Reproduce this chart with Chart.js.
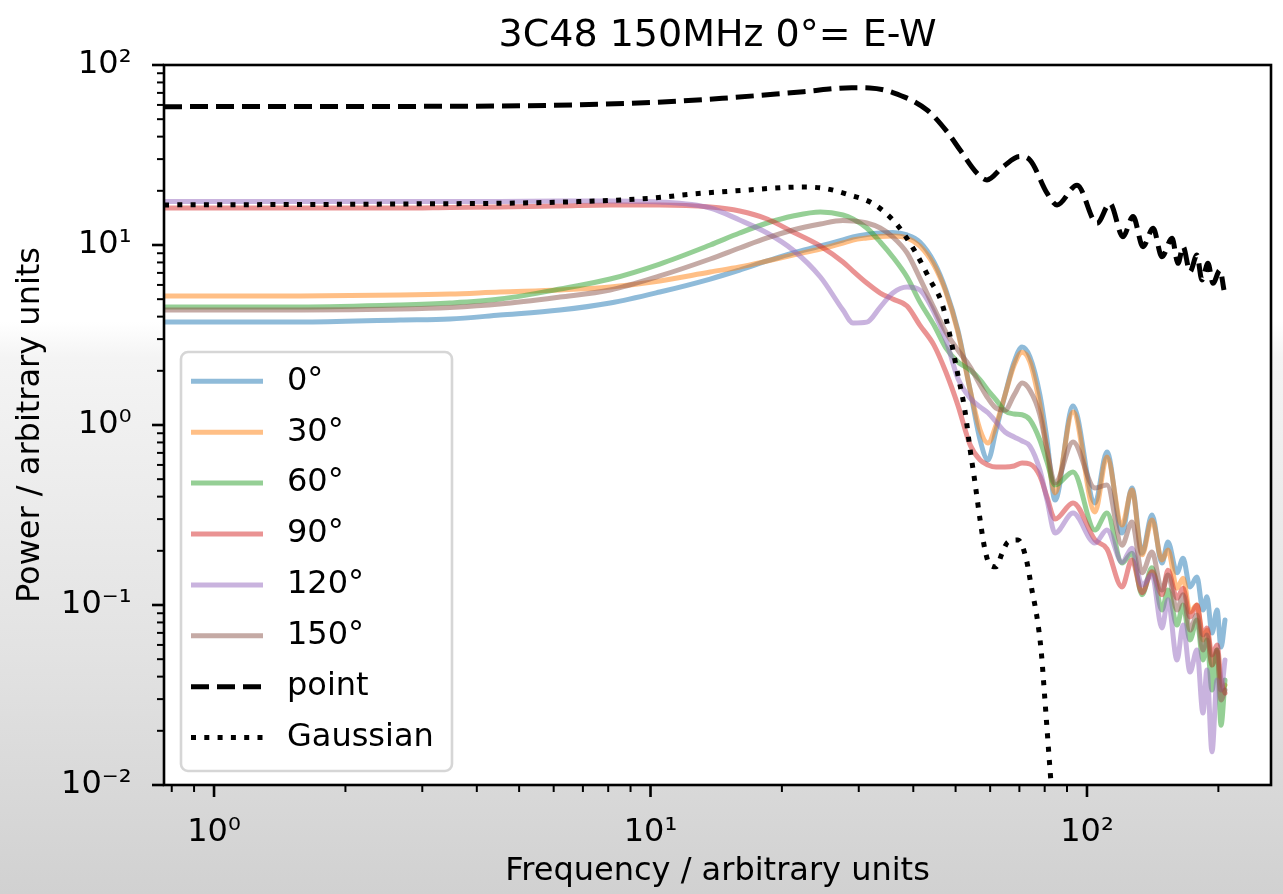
<!DOCTYPE html>
<html>
<head>
<meta charset="utf-8">
<title>3C48 150MHz power spectra</title>
<script src="https://cdn.jsdelivr.net/npm/chart.js@4.4.1/dist/chart.umd.min.js"></script>
<style>
  html, body { margin: 0; padding: 0; background: #ffffff; }
  canvas { display: block; }
</style>
</head>
<body>
<canvas id="spectrum" width="1283" height="894"></canvas>
<script>
// frequency grid shared by the six position-angle spectra
const frequency = [0.768, 1.574, 2.67, 3.47, 4.52, 6.20, 8.08, 10.5, 13.7, 16.0, 18.5, 21.2, 24.5, 27.6, 29.1, 31.3, 33.6, 35.9, 38.7, 41.4,
  44.6, 47.5, 50.6, 54.0, 56.9, 59.3, 61.9, 64.9, 68.1, 71.0, 74.0, 78.0, 81.0, 84.5, 92.9, 104.3, 111.1, 120.3, 126.8, 133.7,
  140.9, 148.5, 153.3, 160.8, 166.0, 172.2, 178.6, 184.4, 188.3, 193.4, 198.6, 202.8, 207.1];

const power0 = [3.73, 3.73, 3.83, 3.88, 4.08, 4.35, 4.76, 5.48, 6.47, 7.26, 8.15, 9.03, 9.87, 10.66, 11.08, 11.44, 11.66, 11.73, 11.37, 10.39,
  8.05, 5.62, 3.37, 1.56, 0.825, 0.639, 0.938, 1.47, 2.24, 2.71, 2.39, 1.47, 0.825, 0.383, 1.275, 0.369, 0.708, 0.251, 0.447, 0.194,
  0.316, 0.171, 0.224, 0.151, 0.182, 0.126, 0.143, 0.0938, 0.111, 0.0699, 0.0938, 0.0584, 0.0825];
const power30 = [5.21, 5.21, 5.27, 5.34, 5.48, 5.62, 5.84, 6.31, 7.08, 7.55, 8.15, 8.80, 9.50, 10.26, 10.66, 10.94, 11.15, 11.22, 10.94, 9.87,
  7.74, 5.48, 3.29, 1.56, 0.938, 0.794, 1.0, 1.47, 2.15, 2.54, 2.24, 1.29, 0.726, 0.419, 1.18, 0.329, 0.664, 0.278, 0.435, 0.190,
  0.297, 0.178, 0.202, 0.124, 0.141, 0.0914, 0.1, 0.0639, 0.0726, 0.0464, 0.0548, 0.0337, 0.0359];
const power60 = [4.52, 4.52, 4.64, 4.76, 5.01, 5.69, 6.47, 7.84, 10.0, 11.66, 13.25, 14.49, 15.26, 14.68, 13.95, 12.43, 10.39, 8.58, 6.64, 4.83,
  3.59, 2.68, 2.24, 2.02, 1.78, 1.56, 1.38, 1.196, 1.151, 1.14, 1.07, 0.825, 0.623, 0.464, 0.548, 0.261, 0.324, 0.171, 0.194, 0.114,
  0.161, 0.0938, 0.121, 0.0774, 0.1, 0.0639, 0.0825, 0.0495, 0.0639, 0.0337, 0.0562, 0.0215, 0.0383];
const power90 = [16.05, 16.05, 16.05, 16.16, 16.26, 16.47, 16.68, 16.68, 16.26, 15.45, 13.95, 11.81, 9.87, 8.05, 7.17, 6.15, 5.41, 5.01, 4.58, 3.59,
  2.78, 1.97, 1.29, 0.774, 0.639, 0.600, 0.584, 0.584, 0.592, 0.615, 0.607, 0.521, 0.398, 0.300, 0.369, 0.230, 0.205, 0.126, 0.178, 0.117,
  0.153, 0.114, 0.156, 0.109, 0.124, 0.0858, 0.1, 0.0681, 0.0745, 0.0527, 0.06, 0.0383, 0.0324];
const power120 = [17.45, 17.45, 17.45, 17.45, 17.45, 17.56, 17.56, 17.33, 16.05, 13.77, 11.66, 9.38, 6.64, 4.35, 3.69, 3.73, 4.52, 5.41, 5.84, 5.62,
  4.24, 2.97, 1.82, 1.41, 1.26, 1.17, 1.04, 0.914, 0.858, 0.815, 0.764, 0.562, 0.383, 0.251, 0.324, 0.221, 0.261, 0.173, 0.207, 0.129,
  0.147, 0.0745, 0.107, 0.0495, 0.0774, 0.0424, 0.0562, 0.0251, 0.0435, 0.0153, 0.0383, 0.0337, 0.0495];
const power150 = [4.35, 4.35, 4.41, 4.50, 4.70, 5.14, 5.62, 6.73, 8.36, 9.62, 10.94, 12.12, 13.08, 13.68, 13.60, 13.25, 12.43, 11.08, 9.03, 6.55,
  4.47, 3.29, 2.61, 2.10, 1.67, 1.41, 1.24, 1.21, 1.47, 1.71, 1.56, 1.14, 0.726, 0.476, 0.804, 0.447, 0.464, 0.215, 0.289, 0.151,
  0.197, 0.121, 0.147, 0.0938, 0.114, 0.0726, 0.088, 0.0562, 0.0681, 0.0464, 0.0562, 0.0297, 0.0337];

// unresolved point source
const pointFreq = [0.768, 1.57, 4.52, 10.0, 14.6, 22.4, 28.9, 31.8, 35.9, 43.0, 47.8, 51.2, 56.0, 59.0, 64.2, 70.2, 74.0, 81.0, 85.4,
  94.9, 105.4, 112.9, 120.9, 127.5, 134.4, 141.7, 148.5, 156.6, 161.6, 166.0, 172.2, 178.6, 183.4, 189.3, 194.4, 201.7, 206.0];
const pointPower = [58.7, 58.8, 59.2, 61.9, 65.3, 71.1, 74.8, 74.5, 70.3, 56.2, 42.6, 33.7, 25.0, 23.0, 27.2, 31.0, 29.7, 19.4, 16.7,
  21.5, 13.2, 17.0, 11.1, 14.4, 9.79, 12.4, 8.61, 10.9, 7.91, 9.79, 7.11, 8.80, 6.39, 7.91, 6.13, 7.26, 5.62];

// Gaussian model
const gaussFreq = [0.768, 2.67, 6.20, 10.0, 12.5, 16.6, 20.5, 22.6, 25.4, 28.6, 32.3, 35.9, 37.9, 40.8, 43.7, 46.5, 48.5, 50.6, 52.5,
  54.0, 55.4, 56.9, 58.4, 59.9, 61.9, 63.9, 65.9, 69.5, 72.5, 74.8, 76.8, 78.5, 80.1, 82.3, 84.0];
const gaussPower = [16.7, 16.9, 17.3, 18.2, 19.2, 20.2, 20.9, 21.0, 20.5, 18.97, 17.0, 13.8, 11.7, 8.80, 6.39, 4.76, 3.16, 1.90, 1.21,
  0.727, 0.476, 0.297, 0.202, 0.167, 0.163, 0.194, 0.224, 0.230, 0.182, 0.121, 0.0858, 0.0562, 0.0297, 0.0121, 0.0064];

const angleLabels = ['0°', '30°', '60°', '90°', '120°', '150°'];
const angleColors = ['rgba(31,119,180,0.5)', 'rgba(255,127,14,0.5)', 'rgba(44,160,44,0.5)',
  'rgba(214,39,40,0.5)', 'rgba(148,103,189,0.5)', 'rgba(140,86,75,0.5)'];

const xTickValues = [0.8, 0.9, 1, 2, 3, 4, 5, 6, 7, 8, 9, 10, 20, 30, 40, 50, 60, 70, 80, 90, 100, 200];
const yTickValues = [];
for (const decade of [0.01, 0.1, 1, 10]) {
  for (let m = 1; m <= 9; m++) yTickValues.push(+(m * decade).toPrecision(3));
}
yTickValues.push(100);

const chartTitle = '3C48 150MHz 0°= E-W';
const FONT = '"DejaVu Sans", "Liberation Sans", sans-serif';

const SUP = { '-': '⁻', '0': '⁰', '1': '¹', '2': '²', '3': '³' };
function isDecade(v) {
  const e = Math.log10(v);
  return Math.abs(e - Math.round(e)) < 1e-9;
}
function decadeLabel(v) {
  if (!isDecade(v)) return '';
  const e = String(Math.round(Math.log10(v)));
  return '10' + e.split('').map(c => SUP[c]).join('');
}

const angleSeries = [power0, power30, power60, power90, power120, power150];
const datasets = angleSeries.map((vals, i) => ({
  label: angleLabels[i],
  data: frequency.map((f, k) => ({ x: f, y: vals[k] })),
  borderColor: angleColors[i],
  borderWidth: 5,
  borderJoinStyle: 'round',
  borderCapStyle: 'round',
  cubicInterpolationMode: 'monotone',
  pointRadius: 0,
  clip: 0,
  order: 10 - i
}));
datasets.push({
  label: 'point',
  data: pointFreq.map((f, k) => ({ x: f, y: pointPower[k] })),
  borderColor: '#000000',
  borderWidth: 5,
  borderDash: [18, 8],
  borderCapStyle: 'butt',
  borderJoinStyle: 'round',
  cubicInterpolationMode: 'monotone',
  pointRadius: 0,
  clip: 0,
  order: 2
});
datasets.push({
  label: 'Gaussian',
  data: gaussFreq.map((f, k) => ({ x: f, y: gaussPower[k] })),
  borderColor: '#000000',
  borderWidth: 5,
  borderDash: [5, 8.3],
  borderCapStyle: 'butt',
  borderJoinStyle: 'round',
  cubicInterpolationMode: 'monotone',
  pointRadius: 0,
  clip: 0,
  order: 1
});

// grey fade behind the figure, white axes face
const figureBackground = {
  id: 'figureBackground',
  beforeDraw(chart) {
    const { ctx, width, height, chartArea } = chart;
    ctx.save();
    const g = ctx.createLinearGradient(0, 0, 0, height);
    g.addColorStop(0, '#ffffff');
    g.addColorStop(0.36, '#ffffff');
    g.addColorStop(0.40, '#f4f4f4');
    g.addColorStop(0.72, '#e3e3e3');
    g.addColorStop(1, '#d1d1d1');
    ctx.fillStyle = g;
    ctx.fillRect(0, 0, width, height);
    ctx.fillStyle = '#ffffff';
    ctx.fillRect(chartArea.left, chartArea.top, chartArea.right - chartArea.left, chartArea.bottom - chartArea.top);
    ctx.restore();
  }
};

// box spines plus outward major/minor tick marks
const axesFrame = {
  id: 'axesFrame',
  afterDatasetsDraw(chart) {
    const { ctx, chartArea: a, scales } = chart;
    ctx.save();
    ctx.strokeStyle = '#000000';
    ctx.setLineDash([]);
    for (const t of scales.x.ticks) {
      const px = scales.x.getPixelForValue(t.value);
      const major = isDecade(t.value);
      ctx.lineWidth = major ? 2.6 : 2;
      ctx.beginPath();
      ctx.moveTo(px, a.bottom);
      ctx.lineTo(px, a.bottom + (major ? 12 : 7));
      ctx.stroke();
    }
    for (const t of scales.y.ticks) {
      const py = scales.y.getPixelForValue(t.value);
      const major = isDecade(t.value);
      ctx.lineWidth = major ? 2.6 : 2;
      ctx.beginPath();
      ctx.moveTo(a.left, py);
      ctx.lineTo(a.left - (major ? 12 : 7), py);
      ctx.stroke();
    }
    ctx.lineWidth = 2.6;
    ctx.strokeRect(a.left, a.top, a.right - a.left, a.bottom - a.top);
    ctx.restore();
  }
};

// legend in the lower left corner of the axes
const legendBox = {
  id: 'legendBox',
  afterDatasetsDraw(chart) {
    const { ctx, chartArea: a } = chart;
    const sets = chart.data.datasets;
    const w = 271, h = 419, r = 7, rowH = 50.9;
    const x0 = a.left + 17;
    const y0 = a.bottom - 14 - h;
    ctx.save();
    ctx.beginPath();
    ctx.moveTo(x0 + r, y0);
    ctx.arcTo(x0 + w, y0, x0 + w, y0 + h, r);
    ctx.arcTo(x0 + w, y0 + h, x0, y0 + h, r);
    ctx.arcTo(x0, y0 + h, x0, y0, r);
    ctx.arcTo(x0, y0, x0 + w, y0, r);
    ctx.closePath();
    ctx.fillStyle = 'rgba(255,255,255,0.8)';
    ctx.fill();
    ctx.strokeStyle = 'rgba(204,204,204,0.8)';
    ctx.lineWidth = 2.6;
    ctx.stroke();

    ctx.font = '32px ' + FONT;
    ctx.textAlign = 'left';
    ctx.textBaseline = 'middle';
    sets.forEach((ds, i) => {
      const y = y0 + 29.3 + i * rowH;
      ctx.strokeStyle = ds.borderColor;
      ctx.lineWidth = ds.borderWidth;
      ctx.lineCap = 'butt';
      ctx.setLineDash(ds.borderDash || []);
      ctx.beginPath();
      ctx.moveTo(x0 + 10, y);
      ctx.lineTo(x0 + 82, y);
      ctx.stroke();
      ctx.setLineDash([]);
      ctx.fillStyle = '#000000';
      ctx.fillText(ds.label, x0 + 106, y);
    });
    ctx.restore();
  }
};

const figureTitle = {
  id: 'figureTitle',
  afterDraw(chart) {
    const { ctx, chartArea: a } = chart;
    ctx.save();
    ctx.font = '38px ' + FONT;
    ctx.fillStyle = '#000000';
    ctx.textAlign = 'center';
    ctx.textBaseline = 'alphabetic';
    ctx.fillText(chartTitle, (a.left + a.right) / 2, 46);
    ctx.restore();
  }
};

Chart.defaults.font.family = FONT;
Chart.defaults.color = '#000000';

new Chart(document.getElementById('spectrum').getContext('2d'), {
  type: 'line',
  data: { datasets: datasets },
  options: {
    responsive: false,
    animation: false,
    devicePixelRatio: 1,
    events: [],
    layout: { padding: { top: 65, right: 12, bottom: 0, left: 0 } },
    plugins: {
      legend: { display: false },
      title: { display: false },
      tooltip: { enabled: false }
    },
    scales: {
      x: {
        type: 'logarithmic',
        position: 'bottom',
        min: 0.768,
        max: 264,
        afterBuildTicks: s => { s.ticks = xTickValues.map(v => ({ value: v })); },
        afterFit: s => { s.height = 109; },
        grid: { display: false },
        border: { display: false },
        ticks: {
          autoSkip: false,
          maxRotation: 0,
          minRotation: 0,
          padding: 20,
          color: '#000000',
          font: { family: FONT, size: 32 },
          callback: v => decadeLabel(v)
        },
        title: {
          display: true,
          text: 'Frequency / arbitrary units',
          color: '#000000',
          font: { family: FONT, size: 32 },
          padding: { top: 0, bottom: 3 }
        }
      },
      y: {
        type: 'logarithmic',
        position: 'left',
        min: 0.01,
        max: 100,
        afterBuildTicks: s => { s.ticks = yTickValues.map(v => ({ value: v })); },
        afterFit: s => { s.width = 164; },
        grid: { display: false },
        border: { display: false },
        ticks: {
          autoSkip: false,
          padding: 24.5,
          color: '#000000',
          font: { family: FONT, size: 32 },
          callback: v => decadeLabel(v)
        },
        title: {
          display: true,
          text: 'Power / arbitrary units',
          color: '#000000',
          font: { family: FONT, size: 32 },
          padding: { top: 11, bottom: 0 }
        }
      }
    }
  },
  plugins: [figureBackground, axesFrame, legendBox, figureTitle]
});
</script>
</body>
</html>
